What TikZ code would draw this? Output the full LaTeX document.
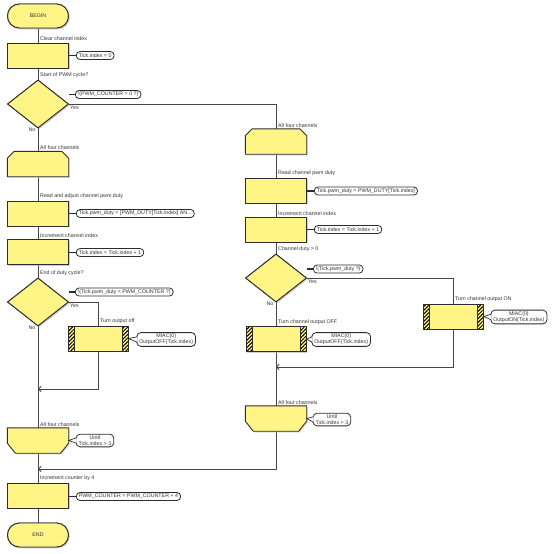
\documentclass[tikz,border=0pt]{standalone}
\usepackage{fontspec}
\setmainfont{Liberation Sans}
\usetikzlibrary{shapes.geometric,shadows,patterns.meta,arrows.meta,calc}
\definecolor{fyel}{RGB}{255,245,135}
\definecolor{edgec}{RGB}{45,45,45}
\definecolor{wirec}{RGB}{70,70,70}
\definecolor{txtc}{RGB}{50,50,50}
\newcommand\drawlstart[1]{\draw[shapeline] ($(#1.north west)+(7,0)$) -- ($(#1.north east)+(-7,0)$) -- ($(#1.north east)+(0,7)$) -- (#1.south east) -- (#1.south west) -- ($(#1.north west)+(0,7)$) -- cycle;}
\newcommand\drawlend[1]{\draw[shapeline] (#1.north west) -- (#1.north east) -- ($(#1.south east)+(0,-10)$) -- ($(#1.south east)+(-8,0)$) -- ($(#1.south west)+(8,0)$) -- ($(#1.south west)+(0,-10)$) -- cycle;}
\newcommand\drawptr[2]{\path[fill=white] (#1.east) -- ($(#2.west)+(1,-2.6)$) -- ($(#2.west)+(1,2.6)$) -- cycle;
  \draw[edgec,line width=0.7pt] ($(#2.west)+(0.4,-2.6)$) -- (#1.east) -- ($(#2.west)+(0.4,2.6)$);}
\begin{document}
\begin{tikzpicture}[x=1pt,y=-1pt,
  font=\fontsize{5.3}{6.2}\selectfont,
  shd/.style={drop shadow={shadow xshift=1.3pt,shadow yshift=-1.3pt,fill=black!25}},
  base/.style={draw=edgec,line width=0.9pt,fill=fyel,shd,inner sep=0pt,minimum width=61pt},
  proc/.style={base,rectangle,minimum height=25pt},
  term/.style={base,rectangle,rounded corners=12pt,minimum height=24pt,text=txtc},
  dec/.style={base,diamond,aspect=1.27,minimum width=61pt,minimum height=48pt},
  holder/.style={rectangle,draw=none,inner sep=0pt,minimum width=61pt,minimum height=25pt},
  shapeline/.style={draw=edgec,line width=0.9pt,fill=fyel,shd},
  hatch/.style={proc,minimum width=60pt,path picture={
      \fill[pattern={Lines[angle=45,distance=2.6pt,line width=1pt]},pattern color=black]
        (path picture bounding box.north west) rectangle ($(path picture bounding box.south west)+(6,0)$);
      \fill[pattern={Lines[angle=45,distance=2.6pt,line width=1pt]},pattern color=black]
        (path picture bounding box.north east) rectangle ($(path picture bounding box.south east)+(-6,0)$);
      \draw[edgec,line width=0.7pt] ($(path picture bounding box.north west)+(6,0)$) -- ($(path picture bounding box.south west)+(6,0)$);
      \draw[edgec,line width=0.7pt] ($(path picture bounding box.north east)+(-6,0)$) -- ($(path picture bounding box.south east)+(-6,0)$);}},
  lbl/.style={text=txtc,inner sep=0.5pt,anchor=south west},
  note/.style={draw=edgec,line width=0.8pt,fill=white,rounded corners=3.6pt,inner xsep=2.5pt,inner ysep=1pt,minimum height=8pt,text=txtc,anchor=west},
  note2/.style={note,align=center,rounded corners=4pt,inner ysep=1.3pt},
  wire/.style={draw=wirec,line width=0.9pt},
  stub/.style={draw=edgec,line width=1.1pt},
  arr/.style={wire,-{Straight Barb[length=2.6pt,width=5.5pt]}}
  ]
\useasboundingbox (0,0) rectangle (554,554);

% ---------------- left column ----------------
\node[term] (begin) at (38,16) {BEGIN};
\node[proc] (clr) at (38,55.5) {};
\node[dec] (d1) at (38,104) {};
\node[holder] (ls1) at (38,164) {};
\node[proc] (rd1) at (38,213.5) {};
\node[proc] (inc1) at (38,252) {};
\node[dec] (d2) at (38,302) {};
\node[hatch] (off1) at (98,338.5) {};
\node[holder] (le1) at (38,440.5) {};
\node[proc] (inc2) at (38,495.5) {};
\node[term] (endn) at (38,535) {END};

% ---------------- right column ----------------
\node[holder] (ls2) at (276,141.5) {};
\node[proc] (rd2) at (276,190.5) {};
\node[proc] (inc3) at (276,229.5) {};
\node[dec] (d3) at (276,278) {};
\node[hatch] (off2) at (276,339) {};
\node[hatch] (onb) at (453,316.5) {};
\node[holder] (le2) at (276,418.5) {};

\coordinate (m1) at (38,389);
\coordinate (m3) at (276,367);
\coordinate (m2) at (38,469);

% connectors
\draw[wire] (begin.south) -- (clr.north);
\draw[wire] (clr.south) -- (d1.north);
\draw[wire] (d1.south) -- (ls1.north);
\draw[wire] (d1.east) -| (ls2.north);
\draw[wire] (ls1.south) -- (rd1.north);
\draw[wire] (rd1.south) -- (inc1.north);
\draw[wire] (inc1.south) -- (d2.north);
\draw[wire] (d2.east) -| (off1.north);
\draw[wire] (d2.south) -- (le1.north);
\draw[arr] (off1.south) |- (m1);
\draw[wire] (le1.south) -- (inc2.north);
\draw[wire] (inc2.south) -- (endn.north);
\draw[wire] (ls2.south) -- (rd2.north);
\draw[wire] (rd2.south) -- (inc3.north);
\draw[wire] (inc3.south) -- (d3.north);
\draw[wire] (d3.south) -- (off2.north);
\draw[wire] (d3.east) -| (onb.north);
\draw[arr] (onb.south) |- (m3);
\draw[wire] (off2.south) -- (le2.north);
\draw[arr] (le2.south) |- (m2);

% redraw shapes on top of the wires
\node[term] at (begin) {BEGIN};
\node[proc] at (clr) {};
\node[dec] at (d1) {};
\drawlstart{ls1}
\node[proc] at (rd1) {};
\node[proc] at (inc1) {};
\node[dec] at (d2) {};
\node[hatch] at (off1) {};
\drawlend{le1}
\node[proc] at (inc2) {};
\node[term] at (endn) {END};
\drawlstart{ls2}
\node[proc] at (rd2) {};
\node[proc] at (inc3) {};
\node[dec] at (d3) {};
\node[hatch] at (off2) {};
\node[hatch] at (onb) {};
\drawlend{le2}

% labels
\node[lbl] (t1) at ($(clr.north)+(1.5,-0.8)$) {Clear channel index};
\node[lbl] (t2) at ($(d1.north)+(1.5,-0.8)$) {Start of PWM cycle?};
\node[lbl] (t3) at ($(ls1.north)+(1.5,-0.8)$) {All four channels};
\node[lbl] (t4) at ($(rd1.north)+(1.5,-0.8)$) {Read and adjust channel pwm duty};
\node[lbl] (t5) at ($(inc1.north)+(1.5,-0.8)$) {Increment channel index};
\node[lbl] (t6) at ($(d2.north)+(1.5,-0.8)$) {End of duty cycle?};
\node[lbl] (t7) at ($(off1.north)+(1.5,-0.8)$) {Turn output off};
\node[lbl] (t8) at ($(le1.north)+(1.5,-0.8)$) {All four channels};
\node[lbl] (t9) at ($(inc2.north)+(1.5,-0.8)$) {Increment counter by 4};
\node[lbl] (t10) at ($(ls2.north)+(1.5,-0.8)$) {All four channels};
\node[lbl] (t11) at ($(rd2.north)+(1.5,-0.8)$) {Read channel pwm duty};
\node[lbl] (t12) at ($(inc3.north)+(1.5,-0.8)$) {Increment channel index};
\node[lbl] (t13) at ($(d3.north)+(1.5,-0.8)$) {Channel duty > 0};
\node[lbl] (t14) at ($(off2.north)+(1.5,-0.8)$) {Turn channel output OFF};
\node[lbl] (t15) at ($(onb.north)+(1.5,-0.8)$) {Turn channel output ON};
\node[lbl] (t16) at ($(le2.north)+(1.5,-0.8)$) {All four channels};

\node[lbl,anchor=north west] (y1) at ($(d1.east)+(0.5,1)$) {Yes};
\node[lbl,anchor=north east] (n1) at ($(d1.south)+(-2,-1.5)$) {No};
\node[lbl,anchor=north west] (y2) at ($(d2.east)+(0.5,1)$) {Yes};
\node[lbl,anchor=north east] (n2) at ($(d2.south)+(-2,-1.5)$) {No};
\node[lbl,anchor=north west] (y3) at ($(d3.east)+(0.5,1)$) {Yes};
\node[lbl,anchor=north east] (n3) at ($(d3.south)+(-2,-1.5)$) {No};

% one-line notes
\node[note] (c_clr) at ($(clr.east)+(7,0)$) {Tick.index = 0};
\draw[stub] (clr.east) -- (c_clr.west);
\node[note] (c_d1) at (75,94.5) {!(PWM\_COUNTER = 0 ?)};
\draw[stub] (d1.east |- c_d1.west) -- (c_d1.west);
\node[note] (c_rd1) at ($(rd1.east)+(7,0)$) {Tick.pwm\_duty = [PWM\_DUTY[Tick.index] AN...};
\draw[stub] (rd1.east) -- (c_rd1.west);
\node[note] (c_inc1) at ($(inc1.east)+(7,0.5)$) {Tick.index = Tick.index + 1};
\draw[stub] (inc1.east |- c_inc1.west) -- (c_inc1.west);
\node[note] (c_d2) at (75,292) {!(Tick.pwm\_duty < PWM\_COUNTER ?)};
\draw[stub] (d2.east |- c_d2.west) -- (c_d2.west);
\node[note] (c_inc2) at ($(inc2.east)+(7,1)$) {PWM\_COUNTER = PWM\_COUNTER + 4};
\draw[stub] (inc2.east |- c_inc2.west) -- (c_inc2.west);
\node[note] (c_rd2) at ($(rd2.east)+(7,0.5)$) {Tick.pwm\_duty = PWM\_DUTY[Tick.index]};
\draw[stub] (rd2.east |- c_rd2.west) -- (c_rd2.west);
\node[note] (c_inc3) at ($(inc3.east)+(7,0)$) {Tick.index = Tick.index + 1};
\draw[stub] (inc3.east) -- (c_inc3.west);
\node[note] (c_d3) at (313,269) {!(Tick.pwm\_duty ?)};
\draw[stub] (d3.east |- c_d3.west) -- (c_d3.west);

% two-line notes with pointer
\node[note2] (c_off1) at ($(off1.east)+(8,1)$) {MIAC(0)\\OutputOFF(Tick.index)};
\drawptr{off1}{c_off1}
\node[note2] (c_off2) at ($(off2.east)+(5,0.5)$) {MIAC(0)\\OutputOFF(Tick.index)};
\drawptr{off2}{c_off2}
\node[note2] (c_on) at ($(onb.east)+(7,0.5)$) {MIAC(0)\\OutputON(Tick.index)};
\drawptr{onb}{c_on}
\node[note2] (c_le1) at ($(le1.east)+(7,0)$) {Until\\Tick.index > 3};
\drawptr{le1}{c_le1}
\node[note2] (c_le2) at ($(le2.east)+(6,1)$) {Until\\Tick.index > 3};
\drawptr{le2}{c_le2}
\end{tikzpicture}
\end{document}
